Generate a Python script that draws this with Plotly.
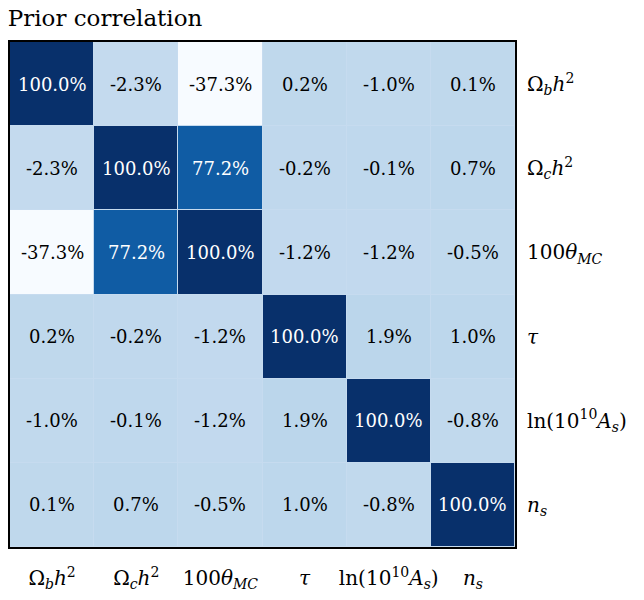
import plotly.graph_objects as go

# Parameter names (rendered with HTML sub/superscripts)
params = [
    "Ω<sub><i>b</i></sub><i>h</i><sup>2</sup>",
    "Ω<sub><i>c</i></sub><i>h</i><sup>2</sup>",
    "100<i>θ</i><sub><i>MC</i></sub>",
    "<i>τ</i>",
    "ln(10<sup>10</sup><i>A</i><sub><i>s</i></sub>)",
    "<i>n</i><sub><i>s</i></sub>",
]

# Correlation matrix rows (fractions)
row_omb = [1.000, -0.023, -0.373, 0.002, -0.010, 0.001]
row_omc = [-0.023, 1.000, 0.772, -0.002, -0.001, 0.007]
row_theta = [-0.373, 0.772, 1.000, -0.012, -0.012, -0.005]
row_tau = [0.002, -0.002, -0.012, 1.000, 0.019, 0.010]
row_as = [-0.010, -0.001, -0.012, 0.019, 1.000, -0.008]
row_ns = [0.001, 0.007, -0.005, 0.010, -0.008, 1.000]
corr = [row_omb, row_omc, row_theta, row_tau, row_as, row_ns]

blues = [
    [0.000, "#f7fbff"], [0.125, "#deebf7"], [0.250, "#c6dbef"],
    [0.375, "#9ecae1"], [0.500, "#6baed6"], [0.625, "#4292c6"],
    [0.750, "#2171b5"], [0.875, "#08519c"], [1.000, "#08306b"],
]

zmin = min(min(r) for r in corr)
zmax = max(max(r) for r in corr)
idx = list(range(len(params)))

fig = go.Figure(go.Heatmap(
    z=corr, x=idx, y=idx,
    colorscale=blues, zmin=zmin, zmax=zmax,
    showscale=False, xgap=1, ygap=1, hoverinfo="skip",
))

serif = "DejaVu Serif"
for i, row in enumerate(corr):
    for j, v in enumerate(row):
        frac = (v - zmin) / (zmax - zmin)
        fig.add_annotation(
            x=j, y=i, text=f"{v*100:.1f}%", showarrow=False,
            font=dict(family=serif, size=18,
                      color="white" if frac > 0.7 else "black"),
        )

fig.update_xaxes(
    range=[-0.5, 5.5], tickvals=idx, ticktext=params, ticks="",
    showgrid=False, zeroline=False, showline=True, mirror=True,
    linecolor="black", linewidth=2,
    tickfont=dict(family=serif, size=20, color="black"),
    ticklabelstandoff=12,
)
fig.update_yaxes(
    range=[5.5, -0.5], tickvals=idx, ticktext=params, ticks="", side="right",
    showgrid=False, zeroline=False, showline=True, mirror=True,
    linecolor="black", linewidth=2,
    tickfont=dict(family=serif, size=20, color="black"),
    ticklabelstandoff=6,
)

fig.update_layout(
    width=644, height=600,
    margin=dict(l=8, r=129, t=42, b=50),
    plot_bgcolor="#c6dbef", paper_bgcolor="white",
    font=dict(family=serif, color="black"),
    title=dict(text="Prior correlation", x=0.012, xanchor="left",
               y=0.97, yanchor="middle",
               font=dict(family=serif, size=23, color="black")),
)

fig.write_html("out.html")
